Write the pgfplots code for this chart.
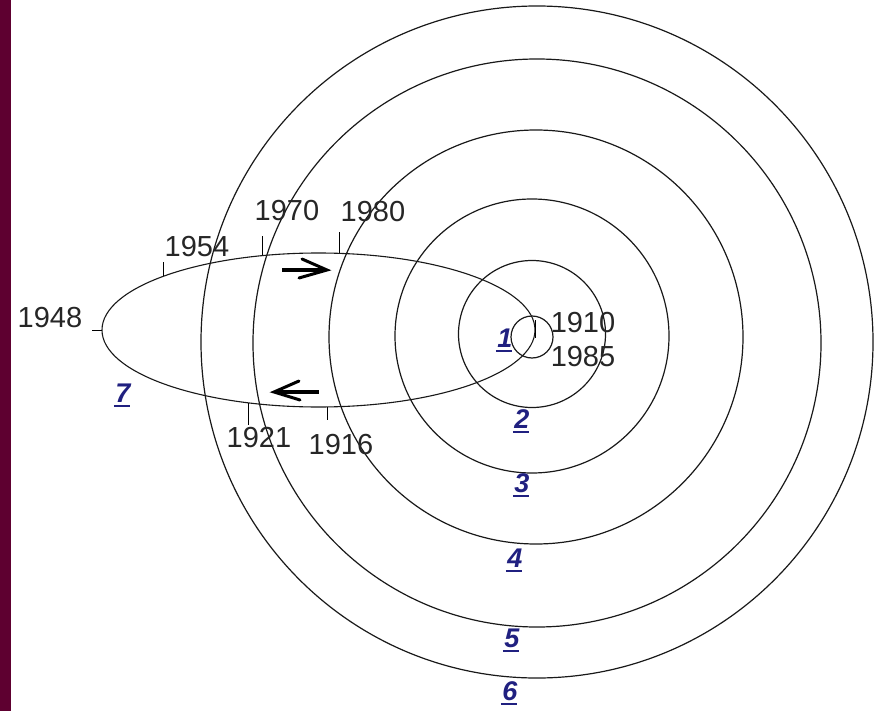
\documentclass[border=0pt]{standalone}
\usepackage{pgfplots}
\pgfplotsset{compat=1.18}
\usepackage{fontspec}
\setmainfont{Liberation Sans}
\definecolor{maroonbar}{RGB}{94,0,48}
\definecolor{numblue}{RGB}{32,32,128}
\newcommand{\ulnum}[1]{\setbox0\hbox{#1}\rlap{\hspace{-1.5bp}\rule[-5bp]{\dimexpr\wd0+1bp\relax}{2bp}}\box0}
\begin{document}
\begin{tikzpicture}
\begin{axis}[x=1bp,y=1bp,xmin=0,xmax=882,ymin=0,ymax=711,y dir=reverse,
  hide axis,clip=false,scale only axis]
\fill[white] (axis cs:0,0) rectangle (axis cs:882,711);
\fill[maroonbar] (axis cs:0,0) rectangle (axis cs:11,711);
% orbits (circles)
\draw[line width=1.2bp,black!90] (axis cs:532,337) circle [radius=21bp];
\draw[line width=1.2bp,black!90] (axis cs:532,334) circle [radius=73.5bp];
\draw[line width=1.2bp,black!90] (axis cs:532,336) circle [radius=137bp];
\draw[line width=1.2bp,black!90] (axis cs:536,337) circle [radius=207bp];
\draw[line width=1.2bp,black!90] (axis cs:537,343) circle [radius=284bp];
\draw[line width=1.2bp,black!90] (axis cs:537,342) circle [radius=336bp];
% comet orbit
\draw[line width=1.1bp,black!90] (axis cs:318.5,330) ellipse [x radius=216.5bp, y radius=77bp];
% year ticks
\addplot[black,line width=1bp] coordinates {(92,330) (102,330)};
\addplot[black,line width=1bp] coordinates {(163,276) (163,262)};
\addplot[black,line width=1bp] coordinates {(262,255) (262,236)};
\addplot[black,line width=1bp] coordinates {(339,253) (339,232)};
\addplot[black,line width=1bp] coordinates {(248,403) (248,425)};
\addplot[black,line width=1bp] coordinates {(327,407) (327,420)};
\addplot[black,line width=1bp] coordinates {(535,320) (535,338)};
% arrows
\draw[line width=3.5bp] (axis cs:282,270) -- (axis cs:325,270);
\draw[line width=3bp,line cap=round,line join=miter] (axis cs:302,259) -- (axis cs:327,270) -- (axis cs:299,278);
\draw[line width=3.5bp] (axis cs:276,392) -- (axis cs:319,392);
\draw[line width=3bp,line cap=round,line join=miter] (axis cs:299,381) -- (axis cs:274,392) -- (axis cs:300,400);
% year labels
\begin{scope}[every node/.style={inner sep=0pt,font=\fontsize{29bp}{31bp}\selectfont,text=black!85}]
\node at (axis cs:50,318) {1948};
\node at (axis cs:197,247) {1954};
\node at (axis cs:287,211) {1970};
\node at (axis cs:373,212) {1980};
\node at (axis cs:259,438) {1921};
\node at (axis cs:341,445) {1916};
\node at (axis cs:583,323) {1910};
\node at (axis cs:583,357) {1985};
\end{scope}
% orbit numbers
\begin{scope}[every node/.style={inner sep=0pt,anchor=base,font=\fontsize{27bp}{29bp}\selectfont\bfseries\itshape,text=numblue}]
\node at (axis cs:505,347) {\color{numblue}\ulnum{1}};
\node at (axis cs:522,428) {\color{numblue}\ulnum{2}};
\node at (axis cs:522,492) {\color{numblue}\ulnum{3}};
\node at (axis cs:515,567) {\color{numblue}\ulnum{4}};
\node at (axis cs:512,647) {\color{numblue}\ulnum{5}};
\node at (axis cs:510,700) {\color{numblue}\ulnum{6}};
\node at (axis cs:123,402) {\color{numblue}\ulnum{7}};
\end{scope}
\end{axis}
\end{tikzpicture}
\end{document}
